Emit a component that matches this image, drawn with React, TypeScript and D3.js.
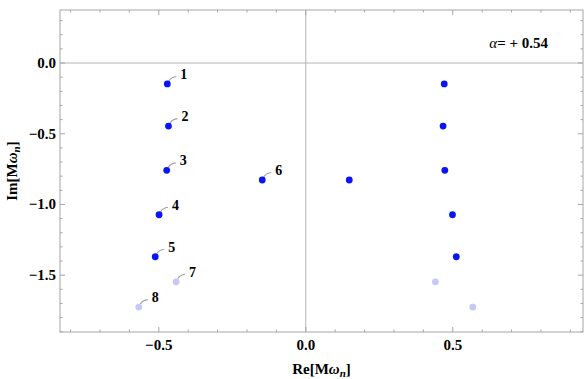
import React, { useEffect, useRef } from "react";
import * as d3 from "d3";

// quasinormal-ish modes, left branch labelled 1..8, right branch is the mirror
const modeLabels = ["1", "2", "3", "4", "5", "6", "7", "8"];
const reValues = [-0.471, -0.467, -0.473, -0.499, -0.512, -0.148, -0.441, -0.568];
const imValues = [-0.148, -0.446, -0.759, -1.073, -1.37, -0.827, -1.547, -1.726];
const faded = [false, false, false, false, false, false, true, true];
const xTickLabels = ["-0.5", "0.0", "0.5"];
const yTickLabels = ["0.0", "-0.5", "-1.0", "-1.5"];

const FONT = "'Liberation Serif', 'Times New Roman', serif";

function App() {
  const svgRef = useRef<SVGSVGElement | null>(null);
  const width = 584;
  const height = 379;
  const margin = { top: 10, right: 1, bottom: 47, left: 60 };

  useEffect(() => {
    const svg = d3.select(svgRef.current);
    svg.selectAll("*").remove();

    const x = d3
      .scaleLinear()
      .domain([-0.836, 0.943])
      .range([margin.left, width - margin.right]);
    const y = d3
      .scaleLinear()
      .domain([-1.902, 0.375])
      .range([height - margin.bottom, margin.top]);

    const [x0, x1] = x.range();
    const [y1, y0] = y.range();
    const frameColor = "#a6a6a6";

    // axes through origin
    svg
      .append("line")
      .attr("x1", x(0))
      .attr("x2", x(0))
      .attr("y1", y0)
      .attr("y2", y1)
      .attr("stroke", "#b4b4b4")
      .attr("stroke-width", 1);
    svg
      .append("line")
      .attr("x1", x0)
      .attr("x2", x1)
      .attr("y1", y(0))
      .attr("y2", y(0))
      .attr("stroke", "#b4b4b4")
      .attr("stroke-width", 1);

    // frame
    svg
      .append("rect")
      .attr("x", x0)
      .attr("y", y0)
      .attr("width", x1 - x0)
      .attr("height", y1 - y0)
      .attr("fill", "none")
      .attr("stroke", frameColor)
      .attr("stroke-width", 1);

    // ticks on all four sides, major every 0.5 and minor every 0.1
    const xMinor = d3.range(-8, 10).map((d) => d / 10);
    const yMinor = d3.range(-19, 4).map((d) => d / 10);
    const isMajor = (v: number) => Math.abs(v * 2 - Math.round(v * 2)) < 1e-6;

    const ticks = svg.append("g").attr("stroke", frameColor).attr("stroke-width", 1);
    xMinor.forEach((v) => {
      const len = isMajor(v) ? 5 : 2.5;
      ticks.append("line").attr("x1", x(v)).attr("x2", x(v)).attr("y1", y1).attr("y2", y1 - len);
      ticks.append("line").attr("x1", x(v)).attr("x2", x(v)).attr("y1", y0).attr("y2", y0 + len);
    });
    yMinor.forEach((v) => {
      const len = isMajor(v) ? 5 : 2.5;
      ticks.append("line").attr("x1", x0).attr("x2", x0 + len).attr("y1", y(v)).attr("y2", y(v));
      ticks.append("line").attr("x1", x1).attr("x2", x1 - len).attr("y1", y(v)).attr("y2", y(v));
    });

    // tick labels
    xTickLabels.forEach((t) => {
      svg
        .append("text")
        .attr("x", x(+t))
        .attr("y", y1 + 18)
        .attr("text-anchor", "middle")
        .attr("font-family", FONT)
        .attr("font-weight", "bold")
        .attr("font-size", 15)
        .text(t.replace("-", "\u2212"));
    });
    yTickLabels.forEach((t) => {
      svg
        .append("text")
        .attr("x", x0 - 4)
        .attr("y", y(+t))
        .attr("dy", "0.33em")
        .attr("text-anchor", "end")
        .attr("font-family", FONT)
        .attr("font-weight", "bold")
        .attr("font-size", 15)
        .text(t.replace("-", "\u2212"));
    });

    // axis titles
    const addTitle = (g: d3.Selection<SVGTextElement, unknown, null, undefined>, prefix: string) => {
      g.append("tspan").text(prefix + "[M");
      g.append("tspan").attr("font-style", "italic").text("\u03c9");
      g.append("tspan").attr("font-style", "italic").attr("font-size", 11).attr("dy", 3).text("n");
      g.append("tspan").attr("dy", -3).text("]");
    };
    const xTitle = svg
      .append("text")
      .attr("x", (x0 + x1) / 2)
      .attr("y", 374)
      .attr("text-anchor", "middle")
      .attr("font-family", FONT)
      .attr("font-weight", "bold")
      .attr("font-size", 15);
    addTitle(xTitle, "Re");
    const yTitle = svg
      .append("text")
      .attr("transform", `translate(17,${(y0 + y1) / 2}) rotate(-90)`)
      .attr("text-anchor", "middle")
      .attr("font-family", FONT)
      .attr("font-weight", "bold")
      .attr("font-size", 15);
    addTitle(yTitle, "Im");

    // alpha annotation
    const alpha = svg
      .append("text")
      .attr("x", 548)
      .attr("y", 48)
      .attr("text-anchor", "end")
      .attr("font-family", FONT)
      .attr("font-weight", "bold")
      .attr("font-size", 15);
    alpha.append("tspan").attr("font-style", "italic").attr("font-weight", "normal").text("\u03b1");
    alpha.append("tspan").text("= + 0.54");

    const modes = modeLabels.map((label, i) => ({
      label,
      re: reValues[i],
      im: imValues[i],
      faded: faded[i],
    }));

    // leader lines and labels on the left branch
    const labels = svg.append("g");
    modes.forEach((m) => {
      const px = x(m.re);
      const py = y(m.im);
      labels
        .append("path")
        .attr("d", `M${px + 1.5},${py - 3} Q${px + 4},${py - 7} ${px + 9},${py - 7.5}`)
        .attr("fill", "none")
        .attr("stroke", "#a0a0a0")
        .attr("stroke-width", 1.1);
      labels
        .append("text")
        .attr("x", px + 13)
        .attr("y", py - 5)
        .attr("font-family", FONT)
        .attr("font-weight", "bold")
        .attr("font-size", 14)
        .text(m.label);
    });

    // points, both branches
    const pts = svg.append("g");
    const allPoints = modes.flatMap((m) => [m, { ...m, re: -m.re }]);
    pts
      .selectAll("circle")
      .data(allPoints)
      .join("circle")
      .attr("cx", (d) => x(d.re))
      .attr("cy", (d) => y(d.im))
      .attr("r", 3.4)
      .attr("fill", (d) => (d.faded ? "#c8c8f6" : "#0a14f5"));
  }, []);

  return (
    <div style={{ position: "absolute", left: 0, top: 0 }}>
      <svg ref={svgRef} width={width} height={height} style={{ display: "block", background: "#fff" }} />
    </div>
  );
}

export default App;
